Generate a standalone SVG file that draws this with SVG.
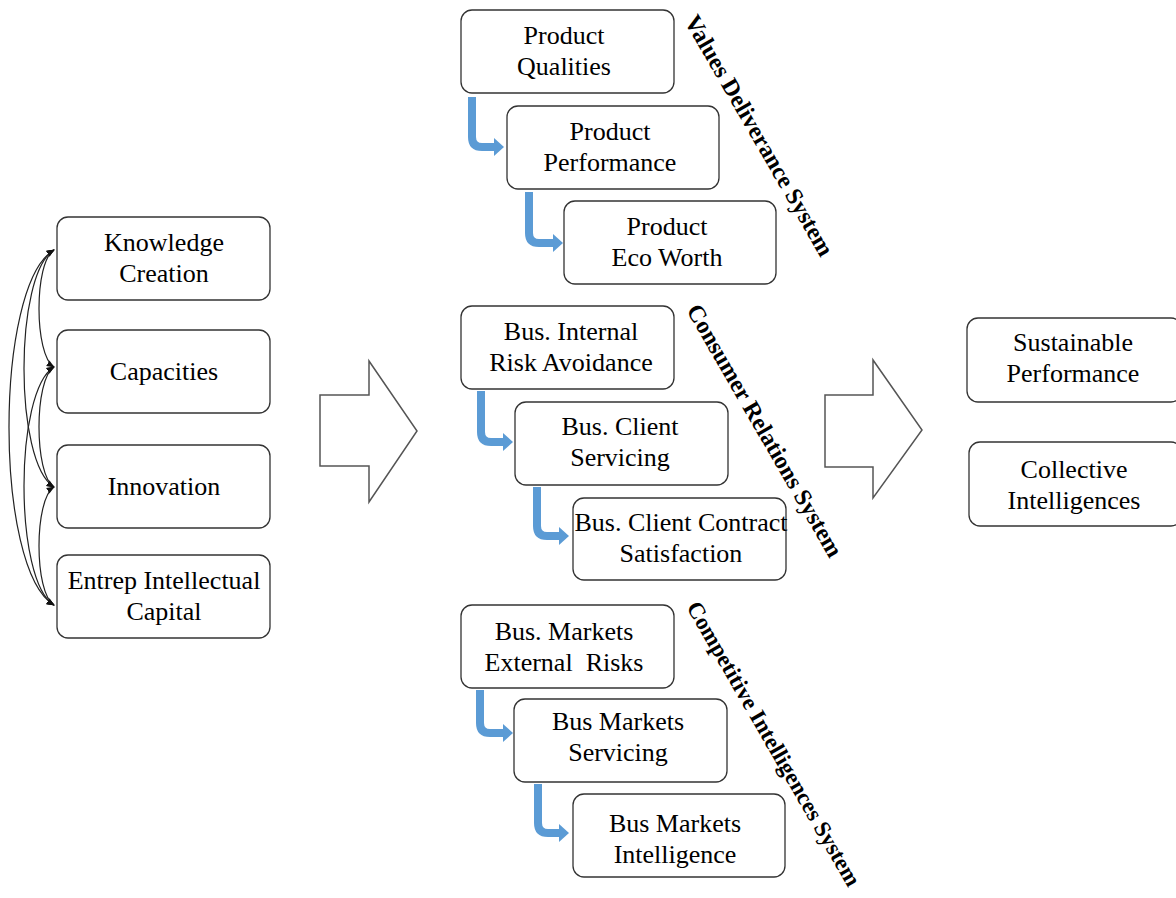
<svg xmlns="http://www.w3.org/2000/svg" width="1176" height="898" viewBox="0 0 1176 898">
<style>
.box{fill:#fff;stroke:#333;stroke-width:1.3}
.t{font-family:"Liberation Serif","Times New Roman",serif;font-size:26px;fill:#000;text-anchor:middle}
.lab{font-family:"Liberation Serif","Times New Roman",serif;font-size:24px;font-weight:bold;fill:#000}
.big{fill:#fff;stroke:#555;stroke-width:1.5}
.blue{fill:none;stroke:#5B9BD5;stroke-width:8}
.bhead{fill:#5B9BD5}
.arc{fill:none;stroke:#222;stroke-width:1.2}
</style>
<defs>
<marker id="ah" viewBox="0 0 10 10" refX="9" refY="5" markerWidth="8" markerHeight="8" orient="auto-start-reverse" markerUnits="userSpaceOnUse">
<path d="M0,1 L10,5 L0,9 z" fill="#111"/>
</marker>
</defs>
<rect width="1176" height="898" fill="#fff"/>

<g id="connectors">
<g id="left-arcs">
<path class="arc" d="M54,250 C34,262 34,355 54,367" marker-start="url(#ah)" marker-end="url(#ah)"/>
<path class="arc" d="M54,367 C34,379 34,475 54,487" marker-start="url(#ah)" marker-end="url(#ah)"/>
<path class="arc" d="M54,487 C34,499 34,593 54,605" marker-start="url(#ah)" marker-end="url(#ah)"/>
<path class="arc" d="M54,250 C14,274 14,463 54,487" marker-start="url(#ah)" marker-end="url(#ah)"/>
<path class="arc" d="M54,367 C14,391 14,581 54,605" marker-start="url(#ah)" marker-end="url(#ah)"/>
<path class="arc" d="M54,250 C-6,285 -6,570 54,605" marker-start="url(#ah)" marker-end="url(#ah)"/>
</g>
<g id="big-arrows">
<polygon class="big" points="320,395 369,395 369,361 417,431 369,502 369,466 320,466"/>
<polygon class="big" points="825,395 873,395 873,360 922,430 873,498 873,467 825,467"/>
</g>
<g id="blue-arrows">
<path class="blue" d="M472,97 V137 Q472,147 482,147 H496"/><polygon class="bhead" points="494,138 504,147 494,156"/>
<path class="blue" d="M529,192 V233 Q529,243 539,243 H555"/><polygon class="bhead" points="553,234 563,243 553,252"/>
<path class="blue" d="M481,391 V432 Q481,442 491,442 H505"/><polygon class="bhead" points="503,433 513,442 503,451"/>
<path class="blue" d="M537,487 V526 Q537,536 547,536 H561"/><polygon class="bhead" points="559,527 569,536 559,545"/>
<path class="blue" d="M480,690 V723 Q480,733 490,733 H505"/><polygon class="bhead" points="503,724 513,733 503,742"/>
<path class="blue" d="M538,784 V823 Q538,833 548,833 H561"/><polygon class="bhead" points="559,824 569,833 559,842"/>
</g>
</g>

<g id="n-knowledge"><rect class="box" x="57" y="217" width="213" height="83" rx="11"/><text class="t" x="164" y="251">Knowledge</text><text class="t" x="164" y="282">Creation</text></g>
<g id="n-capacities"><rect class="box" x="57" y="330" width="213" height="83" rx="11"/><text class="t" x="164" y="380">Capacities</text></g>
<g id="n-innovation"><rect class="box" x="57" y="445" width="213" height="83" rx="11"/><text class="t" x="164" y="495">Innovation</text></g>
<g id="n-entrep"><rect class="box" x="57" y="555" width="213" height="83" rx="11"/><text class="t" x="164" y="589">Entrep Intellectual</text><text class="t" x="164" y="620">Capital</text></g>

<g id="n-pq"><rect class="box" x="461" y="10" width="213" height="83" rx="11"/><text class="t" x="564" y="44">Product</text><text class="t" x="564" y="75">Qualities</text></g>
<g id="n-pp"><rect class="box" x="507" y="106" width="212" height="83" rx="11"/><text class="t" x="610" y="140">Product</text><text class="t" x="610" y="171">Performance</text></g>
<g id="n-pe"><rect class="box" x="564" y="201" width="212" height="83" rx="11"/><text class="t" x="667" y="235">Product</text><text class="t" x="667" y="266">Eco Worth</text></g>

<g id="n-bir"><rect class="box" x="461" y="306" width="213" height="83" rx="11"/><text class="t" x="571" y="340">Bus. Internal</text><text class="t" x="571" y="371">Risk Avoidance</text></g>
<g id="n-bcs"><rect class="box" x="515" y="402" width="213" height="83" rx="11"/><text class="t" x="620" y="435">Bus. Client</text><text class="t" x="620" y="466">Servicing</text></g>
<g id="n-bcc"><rect class="box" x="573" y="498" width="213" height="82" rx="11"/><text class="t" x="681" y="531">Bus. Client Contract</text><text class="t" x="681" y="562">Satisfaction</text></g>

<g id="n-bme"><rect class="box" x="461" y="605" width="213" height="83" rx="11"/><text class="t" x="564" y="640">Bus. Markets</text><text class="t" x="564" y="671">External&#160; Risks</text></g>
<g id="n-bms"><rect class="box" x="514" y="699" width="213" height="83" rx="11"/><text class="t" x="618" y="730">Bus Markets</text><text class="t" x="618" y="761">Servicing</text></g>
<g id="n-bmi"><rect class="box" x="573" y="794" width="212" height="83" rx="11"/><text class="t" x="675" y="832">Bus Markets</text><text class="t" x="675" y="863">Intelligence</text></g>

<g id="n-sp"><rect class="box" x="967" y="318" width="215" height="84" rx="11"/><text class="t" x="1073" y="351">Sustainable</text><text class="t" x="1073" y="382">Performance</text></g>
<g id="n-ci"><rect class="box" x="969" y="442" width="213" height="84" rx="11"/><text class="t" x="1074" y="478">Collective</text><text class="t" x="1074" y="509">Intelligences</text></g>

<g id="labels">
<text class="lab" x="684" y="21" transform="rotate(60 684 21)">Values Deliverance System</text>
<text class="lab" x="686" y="310" transform="rotate(60 686 310)">Consumer Relations System</text>
<text class="lab" x="686" y="607" transform="rotate(60 686 607)" style="font-size:23px">Competitive Intelligences System</text>
</g>
</svg>
